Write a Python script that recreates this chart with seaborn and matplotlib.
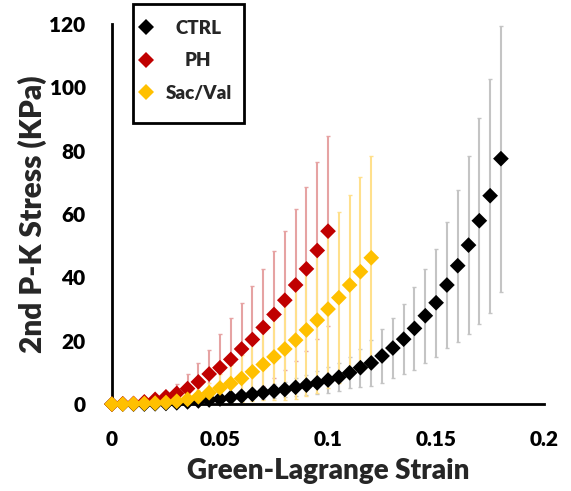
import matplotlib
matplotlib.use("Agg")
import matplotlib.pyplot as plt
from matplotlib.patches import Rectangle
import seaborn as sns
import pandas as pd

# Strain grid shared by all groups (PH and Sac/Val stop earlier)
strain = [0.000, 0.005, 0.010, 0.015, 0.020, 0.025, 0.030, 0.035, 0.040, 0.045,
          0.050, 0.055, 0.060, 0.065, 0.070, 0.075, 0.080, 0.085, 0.090, 0.095,
          0.100, 0.105, 0.110, 0.115, 0.120, 0.125, 0.130, 0.135, 0.140, 0.145,
          0.150, 0.155, 0.160, 0.165, 0.170, 0.175, 0.180]

ctrl_mean = [0, 0, 0, 0, 0.1, 0.2, 0.4, 0.7, 1.0, 1.3,
             1.6, 2.1, 2.5, 3.1, 3.6, 4.1, 4.6, 5.3, 6.0, 6.7,
             7.6, 8.5, 9.9, 11.5, 13.0, 15.2, 17.7, 20.5, 23.9, 27.9,
             32.0, 37.6, 43.7, 50.2, 57.9, 65.8, 77.5]
ctrl_sd = [0, 0, 0, 0.1, 0.2, 0.3, 0.4, 0.5, 0.6, 0.8,
           1.0, 1.2, 1.4, 1.6, 1.9, 2.2, 2.5, 2.8, 3.2, 3.6,
           4.0, 4.5, 4.9, 6.0, 7.2, 8.4, 9.5, 11.0, 13.0, 14.8,
           17.0, 20.0, 24.0, 28.0, 32.5, 37.0, 42.0]

ph_mean = [0, 0.1, 0.2, 0.7, 1.5, 2.3, 3.4, 4.9, 7.0, 9.5,
           11.5, 14.1, 17.4, 20.4, 24.2, 28.3, 32.8, 37.6, 42.7, 48.5,
           54.6]
ph_sd = [0, 0.1, 0.2, 0.4, 0.8, 1.6, 2.8, 4.6, 6.0, 7.5,
         10.5, 13.0, 14.6, 17.0, 18.6, 20.0, 22.0, 24.0, 26.0, 28.0,
         30.0]

sv_mean = [0, 0, 0.1, 0.2, 0.3, 0.5, 0.9, 1.5, 2.3, 3.6,
           5.1, 6.5, 8.1, 10.2, 12.5, 14.9, 17.4, 20.2, 23.4, 26.5,
           30.0, 33.6, 37.6, 41.8, 46.2]
sv_sd = [0, 0, 0.1, 0.2, 0.3, 0.5, 0.8, 1.3, 2.0, 3.0,
         4.5, 5.8, 7.3, 9.2, 11.3, 13.5, 16.0, 18.5, 21.0, 23.0,
         25.0, 27.0, 28.5, 30.0, 32.0]

groups = ["CTRL", "PH", "Sac/Val"]
marker_colors = {"CTRL": "#000000", "PH": "#c00000", "Sac/Val": "#ffc000"}
bar_colors = {"CTRL": "#c4c4c4", "PH": "#e6a3a3", "Sac/Val": "#ffe08c"}

series = {
    "CTRL": (ctrl_mean, ctrl_sd),
    "PH": (ph_mean, ph_sd),
    "Sac/Val": (sv_mean, sv_sd),
}

rows = []
for g in groups:
    m, s = series[g]
    for x, y, e in zip(strain[:len(m)], m, s):
        rows.append({"group": g, "strain": x, "stress": y, "sd": e})
df = pd.DataFrame(rows)

sns.set_theme(style="white")
plt.rcParams["font.family"] = ["Lato", "DejaVu Sans"]
WEIGHT = "heavy"

W, H = 571, 491
fig = plt.figure(figsize=(W / 100, H / 100), dpi=100)
ax = fig.add_axes([0.196, 0.177, 0.757, 0.774])

# Standard-deviation bars underneath all markers
for g in groups:
    d = df[df.group == g]
    ax.errorbar(d.strain, d.stress, yerr=d.sd, fmt="none",
                ecolor=bar_colors[g], elinewidth=1.5, capsize=1.5,
                capthick=1.0, zorder=1)

sns.scatterplot(data=df, x="strain", y="stress", hue="group",
                hue_order=groups, palette=marker_colors, marker="D",
                s=64, linewidth=0, ax=ax, zorder=3, clip_on=False)

ax.set_xlim(0, 0.2)
ax.set_ylim(0, 120)
ax.set_xticks([0, 0.05, 0.1, 0.15, 0.2])
ax.set_xticklabels(["0", "0.05", "0.1", "0.15", "0.2"])
ax.set_yticks([0, 20, 40, 60, 80, 100, 120])

for side in ("top", "right"):
    ax.spines[side].set_visible(False)
for side in ("left", "bottom"):
    ax.spines[side].set_color("black")
    ax.spines[side].set_linewidth(2.0)

ax.tick_params(axis="both", direction="in", length=4.5, width=2.0,
               colors="black", labelsize=15, pad=19)
for lab in ax.get_xticklabels() + ax.get_yticklabels():
    lab.set_fontweight(WEIGHT)

ax.set_xlabel("Green-Lagrange Strain", fontsize=20, fontweight=WEIGHT,
              labelpad=6)
ax.set_ylabel("2nd P-K Stress (KPa)", fontsize=21.5, fontweight=WEIGHT,
              labelpad=2)

# Legend: entries placed at the top left, with a plain black frame
handles, labels = ax.get_legend_handles_labels()
leg = ax.legend(handles, labels, loc="upper left",
                bbox_to_anchor=(140 / W, 1 - 20 / H),
                bbox_transform=fig.transFigure, borderaxespad=0,
                frameon=False, borderpad=0, handlelength=0.6,
                handletextpad=0.75, labelspacing=0.82,
                prop={"size": 13.5, "weight": WEIGHT})
fig.canvas.draw()
texts = leg.get_texts()
widths = [t.get_window_extent().width for t in texts]
wmax = max(widths)
for t, w in zip(texts, widths):
    t.set_x((wmax - w) / 2)

fig.patches.append(Rectangle((133 / W, 1 - 123 / H), 111 / W, 119 / H,
                             transform=fig.transFigure, fill=False,
                             edgecolor="black", linewidth=2.0, zorder=5))

fig.savefig("out.png", dpi=100)
